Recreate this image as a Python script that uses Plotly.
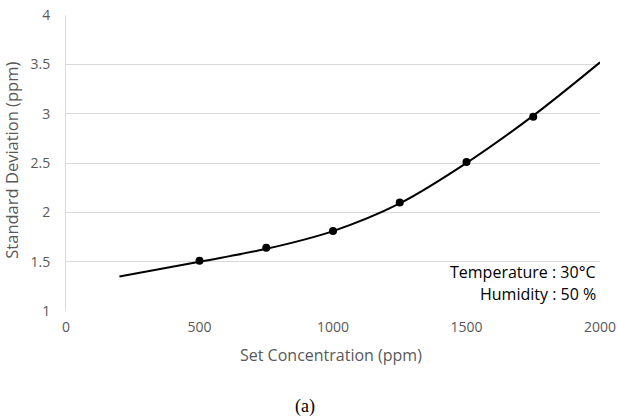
import plotly.graph_objects as go

# measured points
conc = [500, 750, 1000, 1250, 1500, 1750]
std_dev = [1.51, 1.64, 1.81, 2.10, 2.51, 2.97]

# trend curve
trend_x = [200, 500, 750, 1000, 1250, 1500, 1750, 2000]
trend_y = [1.35, 1.50, 1.63, 1.81, 2.09, 2.50, 2.98, 3.52]

x_ticks = [0, 500, 1000, 1500, 2000]
y_ticks = [1, 1.5, 2, 2.5, 3, 3.5, 4]

fig = go.Figure()
fig.add_trace(go.Scatter(x=trend_x, y=trend_y, mode="lines",
                         line=dict(color="black", width=2, shape="spline", smoothing=1.0),
                         showlegend=False, hoverinfo="skip"))
fig.add_trace(go.Scatter(x=conc, y=std_dev, mode="markers",
                         marker=dict(color="black", size=8),
                         showlegend=False))

font_main = "Open Sans, Lato, sans-serif"
gray = "#595959"
fig.update_layout(
    width=617, height=419,
    margin=dict(l=66, r=17, t=15, b=108),
    plot_bgcolor="white", paper_bgcolor="white",
    font=dict(family=font_main, color=gray, size=14),
    xaxis=dict(range=[0, 2000], tickvals=x_ticks, showgrid=False, automargin=False,
               showline=False, zeroline=False, ticks="", ticklabelstandoff=6,
               tickfont=dict(size=14, color=gray)),
    yaxis=dict(range=[1, 4], tickvals=y_ticks, showgrid=True, gridcolor="#d9d9d9",
               gridwidth=1, showline=True, linecolor="#d9d9d9", linewidth=1, automargin=False,
               zeroline=False, ticks="", ticklabelstandoff=12,
               tickfont=dict(size=14, color=gray)),
)
# axis titles
fig.add_annotation(x=0.496, y=-0.149, xref="paper", yref="paper", xanchor="center", yanchor="middle",
                   text="Set Concentration (ppm)", showarrow=False,
                   font=dict(family=font_main, size=16, color=gray))
fig.add_annotation(x=-0.101, y=0.508, xref="paper", yref="paper", xanchor="center", yanchor="middle",
                   text="Standard Deviation (ppm)", showarrow=False, textangle=-90,
                   font=dict(family=font_main, size=16.5, color=gray))
fig.add_annotation(x=0.996, y=0.132, xref="paper", yref="paper", xanchor="right", yanchor="middle",
                   text="Temperature : 30°C", showarrow=False,
                   font=dict(family=font_main, size=16, color="black"))
fig.add_annotation(x=0.996, y=0.057, xref="paper", yref="paper", xanchor="right", yanchor="middle",
                   text="Humidity : 50 %", showarrow=False,
                   font=dict(family=font_main, size=16, color="black"))
fig.add_annotation(x=0.448, y=-0.321, xref="paper", yref="paper", xanchor="center", yanchor="middle",
                   text="(a)", showarrow=False,
                   font=dict(family="Liberation Serif, Times New Roman, serif", size=18, color="black"))

fig.write_html("out.html", config={"displayModeBar": False},
               post_script="document.body.style.margin='0';document.body.style.overflow='hidden';")
